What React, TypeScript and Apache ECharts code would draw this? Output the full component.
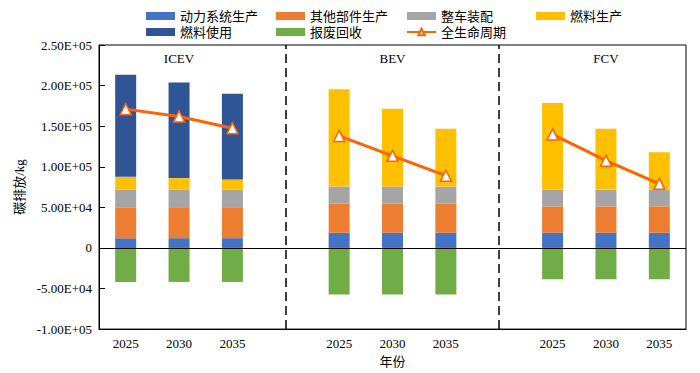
import React, { useEffect, useRef } from "react";
import * as echarts from "echarts";

const categories = ["2025", "2030", "2035", "", "2025", "2030", "2035", "", "2025", "2030", "2035"];
const groupLabels = ["", "ICEV", "", "", "", "BEV", "", "", "", "FCV", ""];

const powertrain = [12000, 12000, 12000, null, 18700, 18700, 18700, null, 18700, 18700, 18700];
const otherParts = [38200, 38200, 38200, null, 35800, 35800, 35800, null, 32500, 32500, 32500];
const assembly = [21900, 21900, 21900, null, 21100, 21100, 21100, null, 20400, 20400, 20400];
const fuelProduction = [15500, 13900, 12200, null, 119900, 95900, 71100, null, 106800, 75100, 46300];
const fuelUse = [125600, 117800, 105700, null, null, null, null, null, null, null, null];
const recycling = [-41900, -41900, -41900, null, -57300, -57300, -57300, null, -38600, -38600, -38600];
const lifecycle = [171000, 162000, 147500, null, 138000, 113500, 89000, null, 139800, 107500, 79000];

const separatorIndices = [3, 7];

const SERIF = '"Liberation Serif", "Noto Sans CJK SC", serif';

function fmt(v: number): string {
  if (v === 0) return "0";
  const sign = v < 0 ? "-" : "";
  const a = Math.abs(v);
  const e = Math.floor(Math.log10(a));
  const m = a / Math.pow(10, e);
  return sign + m.toFixed(2) + "E+" + String(e).padStart(2, "0");
}

export default function App() {
  const ref = useRef<HTMLDivElement>(null);
  useEffect(() => {
    document.body.style.margin = "0";
    const chart = echarts.init(ref.current!, undefined, { renderer: "svg" });
    const legendCommon = {
      orient: "vertical" as const,
      top: 4,
      itemWidth: 29,
      itemHeight: 8,
      itemGap: 2,
      selectedMode: false,
      textStyle: { fontFamily: SERIF, fontSize: 13, color: "#000", lineHeight: 14 },
    };
    const barCommon = {
      type: "bar" as const,
      stack: "total",
      barWidth: 21,
      xAxisIndex: 0,
    };
    chart.setOption({
      animation: false,
      legend: [
        { ...legendCommon, left: 141, data: [{ name: "动力系统生产", icon: "rect" }, { name: "燃料使用", icon: "rect" }] },
        { ...legendCommon, left: 271, data: [{ name: "其他部件生产", icon: "rect" }, { name: "报废回收", icon: "rect" }] },
        { ...legendCommon, left: 401, data: [{ name: "整车装配", icon: "rect" }, { name: "全生命周期" }] },
        { ...legendCommon, left: 531, data: [{ name: "燃料生产", icon: "rect" }] },
      ],
      grid: {
        left: 99,
        right: 14,
        top: 45,
        bottom: 43,
        show: true,
        borderColor: "#000",
        borderWidth: 1,
        backgroundColor: "transparent",
      },
      xAxis: [
        {
          type: "category",
          data: categories,
          name: "年份",
          nameLocation: "middle",
          nameGap: 24,
          nameTextStyle: { fontFamily: SERIF, fontSize: 13, color: "#000" },
          axisLine: { onZero: false, lineStyle: { color: "#000", width: 1 } },
          axisTick: {
            inside: true,
            length: 6,
            alignWithLabel: true,
            interval: (i: number, v: string) => v !== "",
            lineStyle: { color: "#000" },
          },
          axisLabel: { interval: 0, fontFamily: SERIF, fontSize: 13, color: "#000", margin: 8 },
          splitLine: { show: false },
        },
        {
          type: "category",
          data: groupLabels,
          position: "top",
          axisLine: { show: false },
          axisTick: { show: false },
          axisLabel: { interval: 0, inside: true, margin: 7, fontFamily: SERIF, fontSize: 13, color: "#000" },
          splitLine: { show: false },
        },
      ],
      yAxis: {
        type: "value",
        min: -100000,
        max: 250000,
        interval: 50000,
        name: "碳排放/kg",
        nameLocation: "middle",
        nameRotate: 90,
        nameGap: 72,
        nameTextStyle: { fontFamily: SERIF, fontSize: 13, color: "#000" },
        axisLine: { show: true, lineStyle: { color: "#000", width: 1 } },
        axisTick: { show: true, inside: true, length: 6, lineStyle: { color: "#000" } },
        axisLabel: { formatter: (v: number) => fmt(v), fontFamily: SERIF, fontSize: 13, color: "#000", margin: 7 },
        splitLine: { show: false },
      },
      series: [
        {
          ...barCommon,
          name: "动力系统生产",
          data: powertrain,
          itemStyle: { color: "#4472C4" },
          markLine: {
            silent: true,
            symbol: "none",
            label: { show: false },
            data: [
              { yAxis: 0, lineStyle: { color: "#000", width: 1, type: "solid" } },
              ...separatorIndices.map((i) => ({
                xAxis: i,
                lineStyle: { color: "#000", width: 1.5, type: [9, 5] },
              })),
            ],
          },
        },
        { ...barCommon, name: "其他部件生产", data: otherParts, itemStyle: { color: "#ED7D31" } },
        { ...barCommon, name: "整车装配", data: assembly, itemStyle: { color: "#A5A5A5" } },
        { ...barCommon, name: "燃料生产", data: fuelProduction, itemStyle: { color: "#FFC000" } },
        { ...barCommon, name: "燃料使用", data: fuelUse, itemStyle: { color: "#2F5597" } },
        { ...barCommon, name: "报废回收", data: recycling, itemStyle: { color: "#70AD47" } },
        {
          type: "line",
          name: "全生命周期",
          data: lifecycle,
          xAxisIndex: 0,
          connectNulls: false,
          symbol: "triangle",
          symbolSize: 11,
          lineStyle: { color: "#FF6200", width: 3 },
          itemStyle: { color: "#FFFFFF", borderColor: "#FF6200", borderWidth: 1.5 },
          z: 5,
        },
      ],
    });
    return () => chart.dispose();
  }, []);
  return <div ref={ref} style={{ width: 700, height: 373 }} />;
}
